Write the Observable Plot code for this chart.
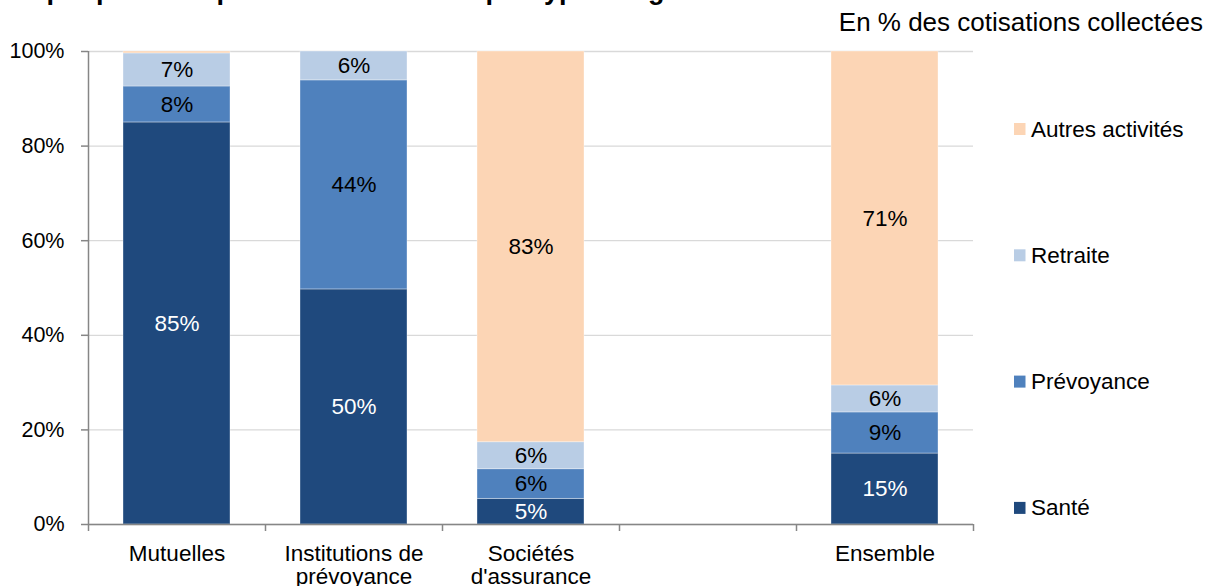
<!DOCTYPE html>
<html><head><meta charset="utf-8">
<script src="https://cdn.jsdelivr.net/npm/d3@7"></script>
<script src="https://cdn.jsdelivr.net/npm/@observablehq/plot@0.6"></script>
<style>
html,body{margin:0;padding:0;background:#fff;}
#wrap{position:relative;width:1208px;height:586px;overflow:hidden;font-family:"Liberation Sans",Arial,sans-serif;}
#wrap svg{position:absolute;left:0;top:0;}
</style></head><body><div id="wrap"></div>
<script>
const categories = ["Mutuelles", "Institutions de\nprévoyance", "Sociétés\nd'assurance", " ", "Ensemble"];
const series = ["Santé", "Prévoyance", "Retraite", "Autres activités"];
const sante      = [85.0, 49.7, 5.4, null, 15.0];
const prevoyance = [7.6, 44.2, 6.3, null, 8.7];
const retraite   = [7.0, 6.1, 5.7, null, 5.7];
const autres     = [0.4, 0.0, 82.6, null, 70.6];
const colors = ["#1F497D", "#4F81BD", "#B9CDE5", "#FCD5B5"];
const yTicks = [0, 20, 40, 60, 80, 100];
const title = "Graphique 1 • Répartition de l'activité par type d'organisme en 2016";
const subtitle = "En % des cotisations collectées";

const valuesBySeries = [sante, prevoyance, retraite, autres];
const rows = [];
series.forEach((s, si) => categories.forEach((c, ci) => {
  const v = valuesBySeries[si][ci];
  if (v != null) rows.push({category: c, series: s, value: v});
}));

const W = 1208, H = 586, ML = 88, MR = 235, MT = 51, MB = 62;
const step = (W - ML - MR) / categories.length;
const FONT = '"Liberation Sans", Arial, sans-serif';
const AXIS = "#868686";
const fmt = d => d.value >= 1 ? Math.round(d.value) + "%" : null;

const chart = Plot.plot({
  width: W, height: H,
  marginLeft: ML, marginRight: MR, marginTop: MT, marginBottom: MB,
  style: {fontFamily: FONT, fontSize: "22px", color: "black", background: "transparent", overflow: "visible"},
  x: {domain: categories, paddingInner: 0.394, paddingOuter: 0.197, axis: null},
  y: {domain: [0, 100], axis: null},
  color: {domain: series, range: colors},
  marks: [
    Plot.gridY(yTicks, {stroke: "#d9d9d9", strokeOpacity: 1, strokeWidth: 1.3}),
    Plot.barY(rows, {x: "category", y: "value", fill: "series", order: series,
      stroke: "white", strokeOpacity: 0.35, strokeWidth: 1}),
    Plot.text(rows, Plot.stackY({x: "category", y: "value", z: "series", order: series,
      text: d => d.series === series[0] ? fmt(d) : null, fill: "white", fontSize: 22.5})),
    Plot.text(rows, Plot.stackY({x: "category", y: "value", z: "series", order: series,
      text: d => d.series !== series[0] ? fmt(d) : null, fill: "black", fontSize: 22.5})),
    Plot.ruleY([0], {stroke: AXIS, strokeWidth: 1.5}),
    Plot.ruleX([categories[0]], {x: d => d, y1: 0, y2: 100, insetTop: 7, dx: -step / 2, stroke: AXIS, strokeWidth: 1.5}),
    Plot.ruleX(categories, {x: d => d, y1: 0, y2: 0, insetTop: 7, dx: step / 2, stroke: AXIS, strokeWidth: 1.5}),
    Plot.axisY({ticks: yTicks, tickFormat: () => null, tickSize: 7, stroke: AXIS, strokeWidth: 1.5, label: null}),
    Plot.axisY({ticks: yTicks, tickFormat: d => d + "%", tickSize: 0, tickPadding: 24, fontSize: 21.5, label: null}),
    Plot.text(categories, {x: d => d, text: d => d, frameAnchor: "bottom", lineAnchor: "top",
      dy: 20, lineHeight: 1.02, fontSize: 22.5, fill: "black"})
  ]
});
document.getElementById("wrap").appendChild(chart);

// Title, subtitle and legend overlay
const svg = d3.select("#wrap").append("svg")
  .attr("width", W).attr("height", H)
  .style("font-family", FONT).style("pointer-events", "none");
svg.append("text").attr("x", 0).attr("y", -1)
  .attr("font-size", 27).attr("font-weight", "bold").attr("fill", "black").text(title);
svg.append("text").attr("x", 1203).attr("y", 31).attr("text-anchor", "end")
  .attr("font-size", 26).attr("fill", "black").text(subtitle);

const legendOrder = series.slice().reverse();
const legendTop = 129, legendStep = 126.3;
legendOrder.forEach((s, i) => {
  const cy = legendTop + i * legendStep;
  svg.append("rect").attr("x", 1014).attr("y", cy - 6).attr("width", 11.5).attr("height", 12)
    .attr("fill", colors[series.indexOf(s)]);
  svg.append("text").attr("x", 1031).attr("y", cy + 7.5).attr("font-size", 22.5)
    .attr("fill", "black").text(s);
});
</script>
</body></html>
